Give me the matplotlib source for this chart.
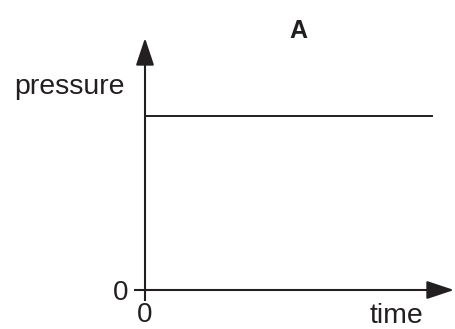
import matplotlib
matplotlib.use('Agg')
import matplotlib.pyplot as plt

plt.rcParams['font.family'] = ['Liberation Sans', 'DejaVu Sans']

# graph A: pressure stays constant over time
time = [0, 10]
pressure = [8, 8]
x_max, y_max = 10.77, 11.59
ink = '#231f20'

fig = plt.figure(figsize=(4.55, 3.29), dpi=100)
ax = fig.add_axes([145 / 455, 1 - 290 / 329, 309 / 455, 252 / 329])
ax.set_xlim(0, x_max)
ax.set_ylim(0, y_max)
ax.patch.set_visible(False)
for s in ax.spines.values():
    s.set_visible(False)

ax.plot(time, pressure, color=ink, lw=1.4)

# axes with arrow heads
arrow = dict(arrowstyle='-|>,head_length=0.42,head_width=0.14', mutation_scale=40,
             color=ink, lw=1.5, shrinkA=0, shrinkB=0)
ax.annotate('', xy=(1, 0), xytext=(0, 0), xycoords='axes fraction', arrowprops=arrow)
ax.annotate('', xy=(0, 1), xytext=(0, 0), xycoords='axes fraction', arrowprops=arrow)

ax.set_xticks([0])
ax.set_yticks([0])
ax.tick_params(direction='out', length=8, width=1.5, color=ink,
               labelsize=20, labelcolor=ink)
ax.tick_params(axis='x', pad=1)
ax.tick_params(axis='y', pad=4)

fig.text(125 / 455, 1 - 94 / 329, 'pressure', ha='right', va='baseline',
         fontsize=20.5, color=ink)
fig.text(396 / 455, 1 - 323 / 329, 'time', ha='center', va='baseline',
         fontsize=20.5, color=ink)
fig.text(298 / 455, 1 - 38 / 329, 'A', ha='center', va='baseline',
         fontsize=18, fontweight='bold', color=ink)

fig.savefig('out.png', dpi=100)
